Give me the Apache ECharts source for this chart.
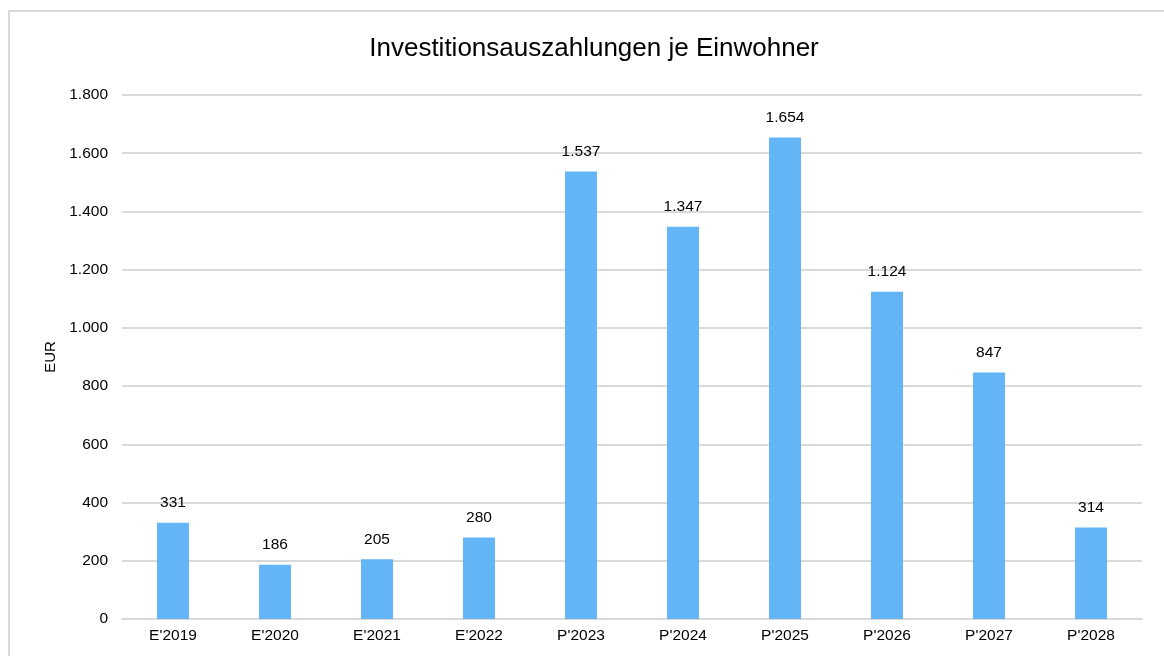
<!DOCTYPE html>
<html>
<head>
<meta charset="utf-8">
<script src="https://cdn.jsdelivr.net/npm/echarts@6/dist/echarts.min.js"></script>
<style>
html,body{margin:0;padding:0;background:#fff;}
#frame{position:absolute;left:8px;top:10px;width:1170px;height:660px;border:2px solid #d9d9d9;box-sizing:border-box;}
#chart{position:absolute;left:0;top:0;width:1164px;height:656px;}
</style>
</head>
<body>
<div id="frame"></div>
<div id="chart"></div>
<script>
const title = "Investitionsauszahlungen je Einwohner";
const categories = ["E'2019","E'2020","E'2021","E'2022","P'2023","P'2024","P'2025","P'2026","P'2027","P'2028"];
const values = [331,186,205,280,1537,1347,1654,1124,847,314];
const yAxisName = "EUR";

function fmt(v){
  return String(v).replace(/\B(?=(\d{3})+(?!\d))/g, ".");
}

const FF = 'Liberation Sans, Arial, sans-serif';
const chart = echarts.init(document.getElementById('chart'), null, {renderer:'canvas'});
chart.setOption({
  animation:false,
  backgroundColor:'transparent',
  textStyle:{fontFamily:FF},
  title:{
    text:title, left:589, top:31, textAlign:'center',
    textStyle:{fontFamily:FF,fontSize:26,fontWeight:'normal',color:'#000'}
  },
  grid:{left:122,right:22,top:95,bottom:37,containLabel:false},
  xAxis:{
    type:'category', data:categories,
    axisLine:{lineStyle:{color:'#d9d9d9',width:2}},
    axisTick:{show:false},
    axisLabel:{color:'#000',fontSize:15.5,margin:9,fontFamily:FF}
  },
  yAxis:{
    type:'value', min:0, max:1800, interval:200,
    name:yAxisName, nameLocation:'middle', nameGap:62, nameRotate:90,
    nameTextStyle:{color:'#000',fontSize:15,fontFamily:FF},
    axisLine:{show:false}, axisTick:{show:false},
    axisLabel:{color:'#000',fontSize:15.5,margin:14,formatter:fmt,fontFamily:FF},
    splitLine:{lineStyle:{color:'#d9d9d9',width:2}}
  },
  series:[{
    type:'bar', data:values, barWidth:32,
    itemStyle:{color:'#63b5f6'},
    label:{show:true,position:'top',distance:12,color:'#000',fontSize:15.5,formatter:p=>fmt(p.value),fontFamily:FF}
  }]
});
</script>
</body>
</html>
